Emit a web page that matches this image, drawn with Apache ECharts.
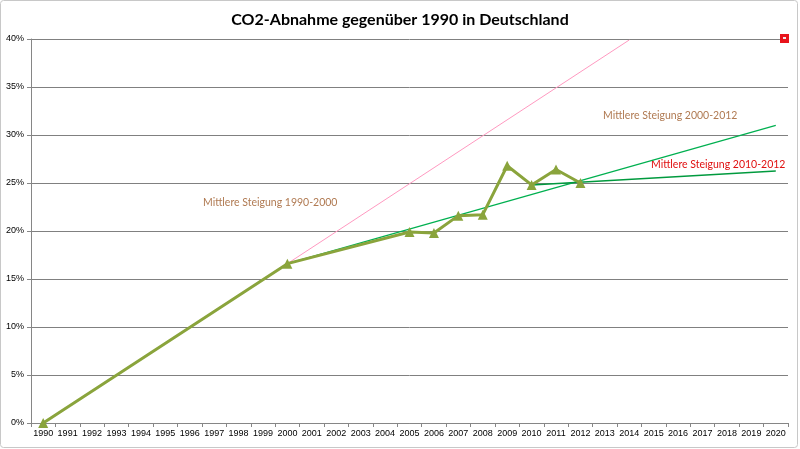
<!DOCTYPE html>
<html>
<head>
<meta charset="utf-8">
<script src="https://cdn.jsdelivr.net/npm/echarts@6/dist/echarts.min.js"></script>
<style>
  html, body { margin: 0; padding: 0; background: #fff; }
  #chart { width: 800px; height: 449px; }
</style>
</head>
<body>
<div id="chart"></div>
<script>
// Jahre auf der x-Achse
const years = ['1990','1991','1992','1993','1994','1995','1996','1997','1998','1999',
  '2000','2001','2002','2003','2004','2005','2006','2007','2008','2009',
  '2010','2011','2012','2013','2014','2015','2016','2017','2018','2019','2020'];
const yTicks = [0, 5, 10, 15, 20, 25, 30, 35, 40];

// CO2-Abnahme in % (null = kein Wert)
const co2Values = [0, null, null, null, null, null, null, null, null, null,
  16.6, null, null, null, null, 19.9, 19.8, 21.6, 21.7, 26.8,
  24.8, 26.4, 25.0, null, null, null, null, null, null, null, null];

// Trendlinien, nur Stützpunkte
const trend1990 = [0, null, null, null, null, null, null, null, null, null,
  16.6, null, null, null, null, null, null, null, null, null,
  null, null, null, null, 39.9, null, null, null, null, null, null];
const trend2000 = [null, null, null, null, null, null, null, null, null, null,
  16.6, null, null, null, null, null, null, null, null, null,
  null, null, null, null, null, null, null, null, null, null, 31.0];
const trend2010 = [null, null, null, null, null, null, null, null, null, null,
  null, null, null, null, null, null, null, null, null, null,
  24.8, null, null, null, null, null, null, null, null, null, 26.25];

const chart = echarts.init(document.getElementById('chart'));

const trendLine = (name, data, color, width) => ({
  name: name,
  type: 'line',
  data: data,
  connectNulls: true,
  showSymbol: false,
  symbol: 'none',
  silent: true,
  lineStyle: { color: color, width: width },
  z: 2
});

const option = {
  animation: false,
  backgroundColor: '#fff',
  title: {
    text: 'CO2-Abnahme gegenüber 1990 in Deutschland',
    left: 'center',
    top: 7,
    textStyle: { fontFamily: 'Lato', fontSize: 16, fontWeight: 'bold', color: '#000' }
  },
  grid: { left: 31, right: 12, top: 39, bottom: 26, containLabel: false },
  xAxis: {
    type: 'category',
    data: years,
    boundaryGap: true,
    axisLine: { lineStyle: { color: '#868686' } },
    axisTick: { show: true, length: 4, lineStyle: { color: '#868686' } },
    axisLabel: { interval: 0, fontFamily: 'Liberation Sans', fontSize: 9, color: '#000', margin: 6 },
    splitLine: { show: false }
  },
  yAxis: {
    type: 'value',
    min: yTicks[0],
    max: yTicks[yTicks.length - 1],
    interval: 5,
    axisLine: { show: true, lineStyle: { color: '#868686' } },
    axisTick: { show: true, length: 4, lineStyle: { color: '#868686' } },
    axisLabel: { formatter: '{value}%', fontFamily: 'Liberation Sans', fontSize: 9, color: '#000', margin: 7 },
    splitLine: { lineStyle: { color: '#808080', width: 1 } }
  },
  series: [
    trendLine('Steigung 1990-2000', trend1990, '#ff99c0', 1),
    trendLine('Steigung 2000-2012', trend2000, '#00b050', 1.2),
    trendLine('Steigung 2010-2012', trend2010, '#009a3e', 1.5),
    {
      name: 'CO2-Abnahme',
      type: 'line',
      data: co2Values,
      connectNulls: true,
      symbol: 'triangle',
      symbolSize: 10,
      showSymbol: true,
      lineStyle: { color: '#8aa43c', width: 3 },
      itemStyle: { color: '#8aa43c' },
      z: 3
    }
  ],
  graphic: [
    // Rahmen
    { type: 'rect', shape: { x: 0.5, y: 0.5, width: 797, height: 447, r: 3 },
      style: { fill: 'none', stroke: '#c8c8c8', lineWidth: 1 }, silent: true },
    // Legenden-Kästchen
    { type: 'rect', shape: { x: 780, y: 34, width: 9, height: 9 },
      style: { fill: '#e8141c' }, z: 10 },
    { type: 'rect', shape: { x: 783, y: 37, width: 3, height: 2 },
      style: { fill: '#f4e8e8' }, z: 11 },
    { type: 'text', left: 203, top: 197,
      style: { text: 'Mittlere Steigung 1990-2000', fill: '#b07a52', font: '10.5px Lato' } },
    { type: 'text', left: 603, top: 110,
      style: { text: 'Mittlere Steigung 2000-2012', fill: '#b07a52', font: '10.5px Lato' } },
    { type: 'text', left: 651, top: 159,
      style: { text: 'Mittlere Steigung 2010-2012', fill: '#e01010', font: '10.5px Lato' } }
  ]
};

chart.setOption(option);
</script>
</body>
</html>
